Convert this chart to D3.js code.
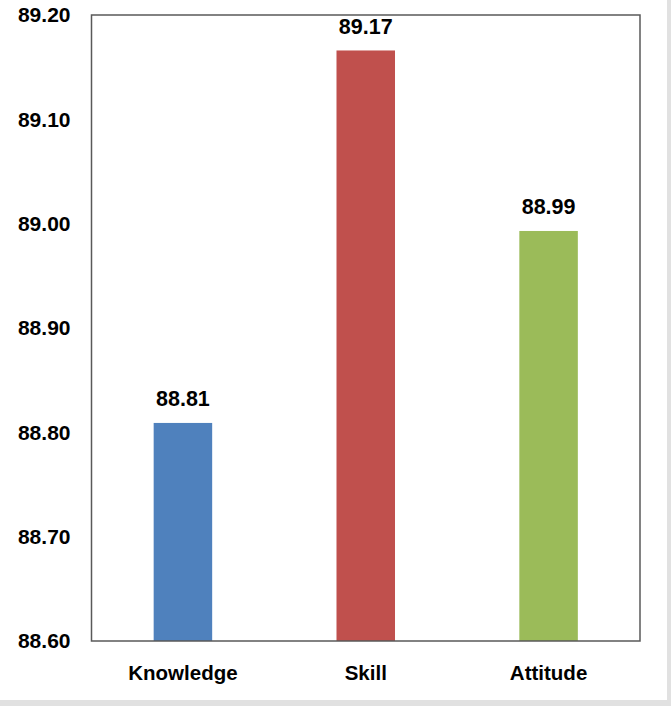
<!DOCTYPE html>
<html><head><meta charset="utf-8">
<script src="https://cdn.jsdelivr.net/npm/d3@7/dist/d3.min.js"></script>
<style>html,body{margin:0;padding:0;background:#fff;}svg{display:block;}</style>
</head><body>
<script>
const categories = ["Knowledge", "Skill", "Attitude"];
const values = [88.809, 89.166, 88.993];
const colors = ["#4F81BD", "#C0504D", "#9BBB59"];
const yTicks = [88.6, 88.7, 88.8, 88.9, 89.0, 89.1, 89.2];

const W = 671, H = 706;
const svg = d3.select("body").append("svg").attr("width", W).attr("height", H);
svg.append("rect").attr("x",0).attr("y",0).attr("width",W).attr("height",H).attr("fill","#fff");
// outer gray border (right and bottom)
svg.append("rect").attr("x",667).attr("y",0).attr("width",4).attr("height",H).attr("fill","#e1e1e1");
svg.append("rect").attr("x",0).attr("y",700).attr("width",W).attr("height",6).attr("fill","#e1e1e1");

const m = {left: 91.5, top: 15, right: 640, bottom: 641};
const font = "'Liberation Sans', Arial, sans-serif";

const x = d3.scaleBand().domain(categories).range([m.left, m.right]).paddingInner(0.68).paddingOuter(0.34);
const y = d3.scaleLinear().domain([88.6, 89.2]).range([m.bottom, m.top]);

svg.selectAll("rect.bar").data(values).enter().append("rect")
  .attr("class","bar")
  .attr("x",(d,i)=>x(categories[i]))
  .attr("width",x.bandwidth())
  .attr("y",d=>y(d))
  .attr("height",d=>y(88.6)-y(d))
  .attr("fill",(d,i)=>colors[i]);

// frame
svg.append("rect").attr("x",m.left).attr("y",m.top).attr("width",m.right-m.left).attr("height",m.bottom-m.top)
  .attr("fill","none").attr("stroke","#595959").attr("stroke-width",1.5);

// y axis labels
const yAxis = d3.axisLeft(y).tickValues(yTicks).tickFormat(d3.format(".2f")).tickSize(0).tickPadding(21);
const ga = svg.append("g").attr("transform",`translate(${m.left},0)`).call(yAxis);
ga.select(".domain").remove();
ga.selectAll("text").attr("font-family",font).attr("font-weight","bold").attr("font-size",21).attr("fill","#000");

// x axis labels
const xAxis = d3.axisBottom(x).tickSize(0).tickPadding(24);
const gx = svg.append("g").attr("transform",`translate(0,${m.bottom})`).call(xAxis);
gx.select(".domain").remove();
gx.selectAll("text").attr("font-family",font).attr("font-weight","bold").attr("font-size",20.5).attr("fill","#000");

// value labels
svg.selectAll("text.val").data(values).enter().append("text")
  .attr("class","val")
  .attr("x",(d,i)=>x(categories[i])+x.bandwidth()/2)
  .attr("y",d=>y(d)-16.5)
  .attr("text-anchor","middle")
  .attr("font-family",font).attr("font-weight","bold").attr("font-size",21.5).attr("fill","#000")
  .text(d=>d3.format(".2f")(d));
</script>
</body></html>
